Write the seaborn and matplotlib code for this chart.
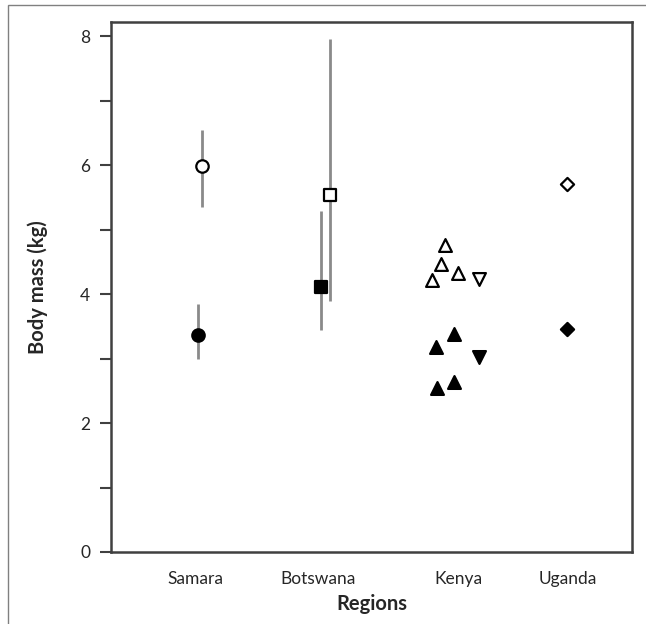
import seaborn as sns
import matplotlib.pyplot as plt
import matplotlib.patches as mpatches
import pandas as pd

# category positions on the x axis
regions = ['Samara', 'Botswana', 'Kenya', 'Uganda']
region_pos = [1.0, 2.0, 3.146, 4.033]

# groups: x position, body mass, error bar low/high
samara_open_x = [1.059]
samara_open_y = [5.99]
samara_open_err = [(5.35, 6.54)]
samara_fill_x = [1.022]
samara_fill_y = [3.37]
samara_fill_err = [(3.0, 3.84)]

botswana_open_x = [2.095]
botswana_open_y = [5.54]
botswana_open_err = [(3.89, 7.96)]
botswana_fill_x = [2.022]
botswana_fill_y = [4.11]
botswana_fill_err = [(3.45, 5.29)]

kenya_open_up_x = [3.033, 2.998, 2.929, 3.138]
kenya_open_up_y = [4.76, 4.47, 4.22, 4.33]
kenya_open_down_x = [3.311]
kenya_open_down_y = [4.24]
kenya_fill_up_x = [3.108, 2.959, 3.108, 2.970]
kenya_fill_up_y = [3.38, 3.18, 2.64, 2.54]
kenya_fill_down_x = [3.311]
kenya_fill_down_y = [3.03]

uganda_open_x = [4.027]
uganda_open_y = [5.71]
uganda_fill_x = [4.027]
uganda_fill_y = [3.46]

sns.set_theme(style='white')
plt.rcParams['font.family'] = ['Lato', 'DejaVu Sans']

fig = plt.figure(figsize=(6.46, 6.24), dpi=100)
ax = fig.add_axes([0.1718, 0.1154, 0.8062, 0.8493])

# error bars first so markers sit on top
err_groups = [
    (samara_open_x, samara_open_err),
    (samara_fill_x, samara_fill_err),
    (botswana_open_x, botswana_open_err),
    (botswana_fill_x, botswana_fill_err),
]
for xs, errs in err_groups:
    for x, (lo, hi) in zip(xs, errs):
        ax.vlines(x, lo, hi, color='#8a8a8a', lw=2, zorder=1)

groups = [
    (samara_open_x, samara_open_y, 'o', False, 80),
    (samara_fill_x, samara_fill_y, 'o', True, 80),
    (botswana_open_x, botswana_open_y, 's', False, 70),
    (botswana_fill_x, botswana_fill_y, 's', True, 70),
    (kenya_open_up_x, kenya_open_up_y, '^', False, 85),
    (kenya_open_down_x, kenya_open_down_y, 'v', False, 85),
    (kenya_fill_up_x, kenya_fill_up_y, '^', True, 85),
    (kenya_fill_down_x, kenya_fill_down_y, 'v', True, 85),
    (uganda_open_x, uganda_open_y, 'D', False, 45),
    (uganda_fill_x, uganda_fill_y, 'D', True, 45),
]
for xs, ys, m, filled, s in groups:
    d = pd.DataFrame({'x': xs, 'y': ys})
    sns.scatterplot(data=d, x='x', y='y', ax=ax, marker=m, s=s,
                    facecolor='black' if filled else 'white',
                    edgecolor='black', linewidth=1.6, zorder=3)

ax.set_xlim(0.317, 4.553)
ax.set_ylim(0, 8.22)
ax.set_xticks(region_pos)
ax.set_xticklabels(regions)
ax.set_yticks([0, 2, 4, 6, 8])
ax.set_yticks([1, 3, 5, 7], minor=True)
ax.tick_params(axis='y', which='both', left=True, length=8, width=1.5,
               color='#404040', pad=7, labelsize=12.5)
ax.tick_params(axis='x', bottom=False, pad=8, labelsize=12.5)
for sp in ax.spines.values():
    sp.set_color('#404040')
    sp.set_linewidth(1.8)

ax.set_xlabel('Regions', fontsize=14.5, fontweight='bold', labelpad=5)
ax.set_ylabel('Body mass (kg)', fontsize=14.5, fontweight='bold', labelpad=23)

# outer frame
fig.add_artist(mpatches.Rectangle((8 / 646, -0.5), 2, 0.992 + 0.5,
                                  transform=fig.transFigure, fill=False,
                                  edgecolor='#808080', lw=1))

fig.savefig('out.png', dpi=100)
